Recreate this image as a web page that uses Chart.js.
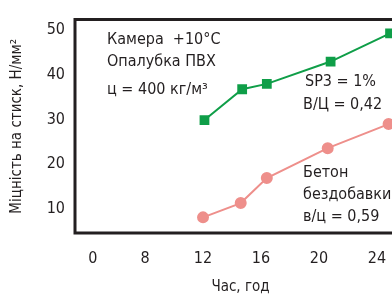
<!DOCTYPE html>
<html>
<head>
<meta charset="utf-8">
<script src="https://cdn.jsdelivr.net/npm/chart.js@4"></script>
<style>
  html, body { margin: 0; padding: 0; background: #fff; overflow: hidden; }
  #wrap { width: 420px; height: 298px; }
</style>
</head>
<body>
<div id="wrap"><canvas id="myChart" width="420" height="298"></canvas></div>
<script>
// Дані
const годиниSP3 = [12.1, 14.7, 16.4, 20.8, 24.9];
const міцністьSP3 = [29.9, 36.8, 38.0, 43.0, 49.3];
const годиниБетон = [12.0, 14.6, 16.4, 20.6, 24.8];
const міцністьБетон = [8.1, 11.3, 16.9, 23.6, 29.0];
const xTickValues = [4.4, 8, 12, 16, 20, 24];
const xTickLabels = ['0', '8', '12', '16', '20', '24'];
const yTickValues = [10, 20, 30, 40, 50];

const шрифт = "'Liberation Sans Narrow', 'DejaVu Sans Condensed', Roboto, sans-serif";
const темний = '#231f20';

// Рамка і підписи всередині поля графіка
const рамка = {
    id: 'рамка',
    afterDatasetsDraw(chart) {
        const { ctx, chartArea: a } = chart;
        ctx.save();
        ctx.strokeStyle = темний;
        ctx.lineWidth = 3;
        ctx.beginPath();
        ctx.moveTo(a.right, a.top);
        ctx.lineTo(a.left, a.top);
        ctx.lineTo(a.left, a.bottom);
        ctx.lineTo(a.right, a.bottom);
        ctx.stroke();

        ctx.fillStyle = темний;
        ctx.font = '16px ' + шрифт;
        ctx.textBaseline = 'middle';
        ctx.textAlign = 'left';
        ctx.fillText('Камера  +10°C', 107, 40);
        ctx.fillText('Опалубка ПВХ', 107, 62);
        ctx.fillText('ц = 400 кг/м³', 107, 90);
        ctx.fillText('SP3 = 1%', 305, 82);
        ctx.fillText('В/Ц = 0,42', 303, 105);
        ctx.fillText('Бетон', 303, 173);
        ctx.fillText('бездобавки', 303, 195);
        ctx.fillText('в/ц = 0,59', 303, 217);
        ctx.restore();
    }
};

const ctx = document.getElementById('myChart').getContext('2d');
const myChart = new Chart(ctx, {
    type: 'scatter',
    data: {
        datasets: [
            {
                label: 'SP3 = 1%',
                data: годиниSP3.map((h, i) => ({ x: h, y: міцністьSP3[i] })),
                showLine: true,
                borderColor: '#0f9e48',
                backgroundColor: '#0f9e48',
                borderWidth: 2,
                pointStyle: 'rect',
                pointRadius: 5.5,
                pointHoverRadius: 5.5
            },
            {
                label: 'Бетон без добавки',
                data: годиниБетон.map((h, i) => ({ x: h, y: міцністьБетон[i] })),
                showLine: true,
                borderColor: '#ee8f8b',
                backgroundColor: '#ee8f8b',
                borderWidth: 2,
                pointStyle: 'circle',
                pointRadius: 5,
                pointHoverRadius: 5
            }
        ]
    },
    options: {
        responsive: false,
        animation: false,
        devicePixelRatio: 1,
        layout: { padding: { top: 12, right: 14, left: 0, bottom: 0 } },
        plugins: {
            legend: { display: false },
            tooltip: { enabled: false }
        },
        scales: {
            x: {
                type: 'linear',
                min: 3.17,
                max: 26,
                grid: { display: false, drawTicks: false },
                border: { display: false },
                afterBuildTicks: scale => {
                    scale.ticks = xTickValues.map(v => ({ value: v }));
                },
                afterFit: scale => { scale.height = 65; },
                ticks: {
                    color: темний,
                    padding: 16,
                    maxRotation: 0,
                    autoSkip: false,
                    font: { family: шрифт, size: 16 },
                    callback: (v, i) => xTickLabels[i]
                },
                title: {
                    display: true,
                    text: 'Час, год',
                    color: темний,
                    font: { family: шрифт, size: 15 },
                    padding: { top: 0, bottom: 2 }
                }
            },
            y: {
                min: 4.6,
                max: 52.4,
                grid: { display: false, drawTicks: false },
                border: { display: false },
                afterBuildTicks: scale => {
                    scale.ticks = yTickValues.map(v => ({ value: v }));
                },
                afterFit: scale => { scale.width = 75; },
                ticks: {
                    color: темний,
                    padding: 10,
                    font: { family: шрифт, size: 16 }
                },
                title: {
                    display: true,
                    text: 'Міцність на стиск, Н/мм²',
                    color: темний,
                    font: { family: шрифт, size: 15 },
                    padding: { top: 8, bottom: 0 }
                }
            }
        }
    },
    plugins: [рамка]
});
</script>
</body>
</html>
